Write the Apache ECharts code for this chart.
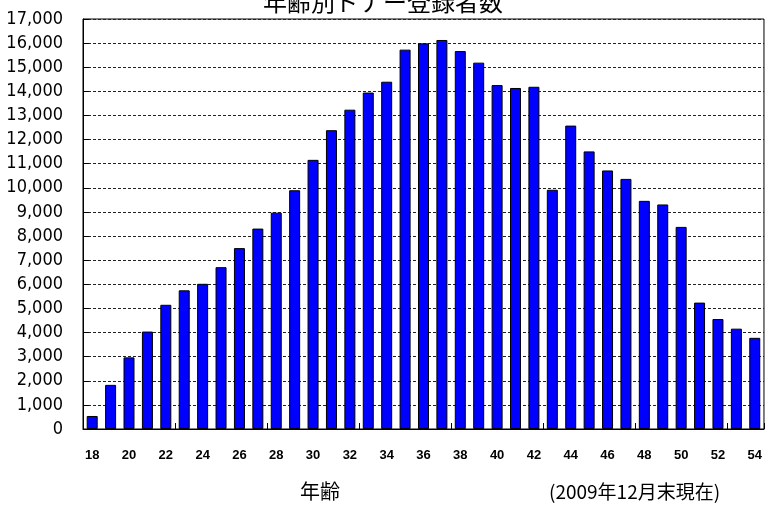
<!DOCTYPE html>
<html>
<head>
<meta charset="utf-8">
<script src="https://cdn.jsdelivr.net/npm/echarts@6/dist/echarts.min.js"></script>
<style>
html,body{margin:0;padding:0;background:#fff;}
#chart{width:765px;height:509px;}
</style>
</head>
<body>
<div id="chart"></div>
<script>
var titleText = '年齢別ドナー登録者数';
var axisTitle = '年齢';
var noteText = '(2009年12月末現在)';
var ages = ['18','19','20','21','22','23','24','25','26','27','28','29','30','31','32','33','34','35','36','37','38','39','40','41','42','43','44','45','46','47','48','49','50','51','52','53','54'];
var donors = [540,1830,2970,4040,5150,5750,6020,6710,7500,8310,8970,9900,11160,12390,13240,13950,14400,15730,15990,16130,15670,15190,14260,14140,14190,9920,12580,11510,10720,10370,9460,9310,8380,5240,4560,4160,3780];
var yMin = 0, yMax = 17000, yStep = 1000;

var chart = echarts.init(document.getElementById('chart'));
var numFont = "'Liberation Sans Narrow','DejaVu Sans Condensed',sans-serif";
var jpFont = "'Noto Sans CJK JP',sans-serif";
chart.setOption({
  animation: false,
  backgroundColor: '#fff',
  grid: {left: 83, right: 1, top: 19, bottom: 80, show: true, borderColor: '#000', borderWidth: 1},
  xAxis: {
    type: 'category',
    data: ages,
    axisLine: {lineStyle: {color: '#000', width: 1}},
    axisTick: {show: true, inside: true, length: 6, interval: 4, alignWithLabel: false, lineStyle: {color: '#000'}},
    axisLabel: {interval: 1, margin: 20, fontFamily: 'Liberation Sans, sans-serif', fontWeight: 'bold', fontSize: 13, color: '#000'},
    splitLine: {show: false}
  },
  yAxis: {
    type: 'value',
    min: yMin, max: yMax, interval: yStep,
    axisLine: {show: true, lineStyle: {color: '#000', width: 1}},
    axisTick: {show: true, inside: true, length: 6, lineStyle: {color: '#000'}},
    axisLabel: {margin: 20, fontFamily: numFont, fontSize: 18, color: '#000',
      formatter: function(v){ return v.toLocaleString('en-US'); }},
    splitLine: {show: true, lineStyle: {color: '#222', type: [3, 2], width: 1}}
  },
  series: [{
    type: 'bar',
    data: donors,
    barWidth: 11,
    itemStyle: {color: '#0000ff', borderColor: '#000', borderWidth: 1}
  }],
  graphic: [
    {type: 'text', x: 383, y: -10, style: {text: titleText, font: '24px ' + jpFont, fill: '#000', textAlign: 'center', textVerticalAlign: 'top'}},
    {type: 'text', left: 300, top: 481, style: {text: axisTitle, font: '20px ' + jpFont, fill: '#000'}},
    {type: 'text', left: 549, top: 482, style: {text: noteText, font: '19px ' + jpFont, fill: '#000'}}
  ]
});
</script>
</body>
</html>
